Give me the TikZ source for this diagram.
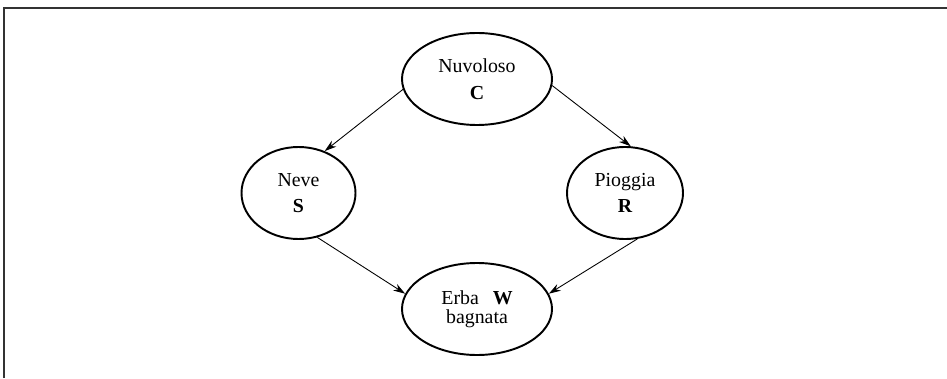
\documentclass[tikz,border=0pt]{standalone}
\usepackage{fontspec}
\setmainfont{Liberation Serif}
\usetikzlibrary{shapes.geometric, arrows.meta}

\begin{document}
\begin{tikzpicture}[
  var/.style={draw, ellipse, line width=1.1pt, inner sep=0pt, minimum height=1.84cm,
    align=center, font=\fontsize{11.3}{15.2}\selectfont},
  link/.style={-{Stealth[length=2.4mm, width=1.5mm]}, line width=0.5pt}
]
  \useasboundingbox (0.0, 0.0) rectangle (18.94, 7.56);
  % open frame, top and left side only
  \draw[line width=0.8pt, black!80] (0.08, 0.0) -- (0.08, 7.40) -- (18.94, 7.40);
  \node[var, minimum width=3.00cm] (C) at (9.54, 5.98) {Nuvoloso\\\textbf{C}};
  \node[var, minimum width=2.28cm] (S) at (5.97, 3.70) {Neve\\\textbf{S}};
  \node[var, minimum width=2.32cm] (R) at (12.50, 3.70) {Pioggia\\\textbf{R}};
  \node[var, minimum width=3.00cm, font=\fontsize{11.3}{11}\selectfont] (W) at (9.54, 1.38)
    {Erba\hspace{0.7em}\textbf{W}\\bagnata};
  \draw[link] (C.188) -- (S.58);
  \draw[link] (C.355) -- (R.83);
  \draw[link] (S.293) -- (W.168);
  \draw[link] (R.285) -- (W.12);
\end{tikzpicture}
\end{document}
